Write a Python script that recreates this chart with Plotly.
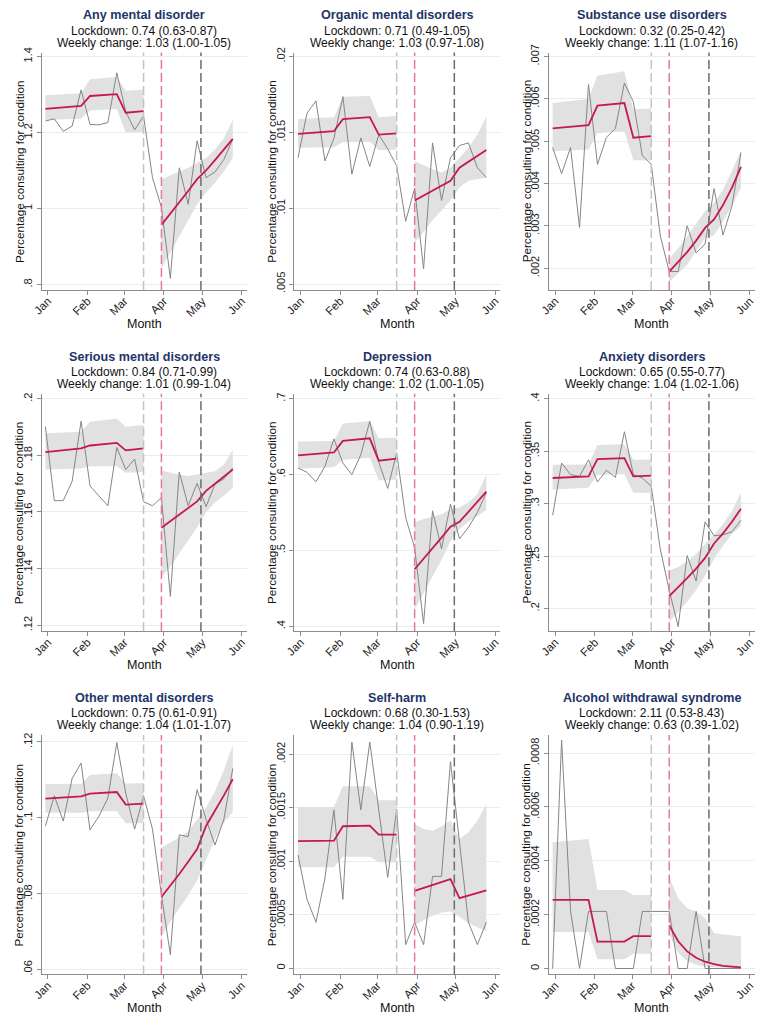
import pandas as pd
import plotly.graph_objects as go

# ---------------- data ----------------
week_start = "2019-12-30"
n_weeks = 22
month_ticks = ["2020-01-01", "2020-02-01", "2020-03-01", "2020-04-01", "2020-05-01", "2020-06-01"]
month_labels = ["Jan", "Feb", "Mar", "Apr", "May", "Jun"]
event_dates = ["2020-03-16", "2020-03-30", "2020-04-30"]

titles = ["Any mental disorder", "Organic mental disorders", "Substance use disorders",
          "Serious mental disorders", "Depression", "Anxiety disorders",
          "Other mental disorders", "Self-harm", "Alcohol withdrawal syndrome"]
lockdown_txt = ["Lockdown: 0.74 (0.63-0.87)", "Lockdown: 0.71 (0.49-1.05)", "Lockdown: 0.32 (0.25-0.42)",
                "Lockdown: 0.84 (0.71-0.99)", "Lockdown: 0.74 (0.63-0.88)", "Lockdown: 0.65 (0.55-0.77)",
                "Lockdown: 0.75 (0.61-0.91)", "Lockdown: 0.68 (0.30-1.53)", "Lockdown: 2.11 (0.53-8.43)"]
weekly_txt = ["Weekly change: 1.03 (1.00-1.05)", "Weekly change: 1.03 (0.97-1.08)", "Weekly change: 1.11 (1.07-1.16)",
              "Weekly change: 1.01 (0.99-1.04)", "Weekly change: 1.02 (1.00-1.05)", "Weekly change: 1.04 (1.02-1.06)",
              "Weekly change: 1.04 (1.01-1.07)", "Weekly change: 1.04 (0.90-1.19)", "Weekly change: 0.63 (0.39-1.02)"]

# 1 Any mental disorder
any_obs = [1.230, 1.236, 1.203, 1.217, 1.312, 1.221, 1.220, 1.226, 1.357, 1.255, 1.207, 1.243,
           1.081, 1.003, 0.816, 1.107, 1.011, 1.178, 1.081, 1.096, 1.129, 1.183]
any_fit = [1.262, 1.264, 1.266, 1.268, 1.270, 1.296, 1.298, 1.300, 1.301, 1.252, 1.254, 1.256,
           None, 0.957, 0.986, 1.015, 1.046, 1.077, 1.100, 1.127, 1.155, 1.183]
any_lo = [1.233, 1.234, 1.234, 1.235, 1.236, 1.258, 1.259, 1.260, 1.262, 1.200, 1.200, 1.201,
          None, 0.842, 0.885, 0.929, 0.972, 1.011, 1.042, 1.068, 1.098, 1.133]
any_hi = [1.298, 1.299, 1.300, 1.301, 1.303, 1.340, 1.342, 1.344, 1.346, 1.310, 1.311, 1.313,
          None, 1.077, 1.087, 1.097, 1.107, 1.120, 1.133, 1.155, 1.185, 1.233]
any_ticks = [0.8, 1.0, 1.2, 1.4]
any_ticklabels = [".8", "1", "1.2", "1.4"]

# 2 Organic mental disorders
org_obs = [.01333, .01626, .01707, .01311, .01459, .01735, .01224, .01463, .01274, .01485, .01391, .01278,
           .00913, .01130, .00600, .01430, .01050, .01333, .01413, .01430, .01267, .01202]
org_fit = [.01489, .01494, .01498, .01502, .01507, .01587, .01591, .01596, .01600, .01485, .01489, .01493,
           None, .01050, .01082, .01114, .01147, .01180, .01267, .01305, .01344, .01383]
org_lo = [.01398, .01399, .01400, .01401, .01402, .01435, .01436, .01437, .01438, .01383, .01384, .01385,
          None, .00774, .00843, .00920, .00985, .01050, .01137, .01180, .01191, .01202]
org_hi = [.01587, .01590, .01593, .01597, .01600, .01735, .01736, .01738, .01739, .01600, .01604, .01609,
          None, .01311, .01283, .01257, .01235, .01267, .01333, .01398, .01485, .01604]
org_ticks = [.005, .01, .015, .02]
org_ticklabels = [".005", ".01", ".015", ".02"]

# 3 Substance use disorders
sub_obs = [.00485, .00423, .00485, .00296, .00634, .00445, .00509, .00530, .00637, .00593, .00466, .00445,
           .00277, .00192, .00192, .00300, .00236, .00257, .00388, .00278, .00347, .00473]
sub_fit = [.00530, .00532, .00534, .00536, .00538, .00584, .00586, .00588, .00590, .00508, .00510, .00512,
           None, .00192, .00214, .00238, .00265, .00295, .00315, .00349, .00390, .00439]
sub_lo = [.00476, .00477, .00478, .00479, .00480, .00519, .00520, .00521, .00523, .00455, .00455, .00454,
          None, .00167, .00187, .00208, .00240, .00272, .00278, .00310, .00348, .00390]
sub_hi = [.00590, .00592, .00594, .00597, .00600, .00655, .00658, .00661, .00665, .00575, .00576, .00577,
          None, .00222, .00247, .00275, .00305, .00335, .00355, .00385, .00430, .00478]
sub_ticks = [.002, .003, .004, .005, .006, .007]
sub_ticklabels = [".002", ".003", ".004", ".005", ".006", ".007"]

# 4 Serious mental disorders
ser_obs = [.1901, .1640, .1640, .1709, .1921, .1692, .1657, .1622, .1828, .1750, .1787, .1636,
           .1622, .1651, .1302, .1741, .1622, .1701, .1619, .1698, .1717, .1756]
ser_fit = [.18116, .18148, .18180, .18212, .18244, .18349, .18380, .18411, .18442, .18174, .18209, .18244,
           None, .15442, .15675, .15907, .16140, .16372, .16744, .16996, .17248, .17500]
ser_lo = [.17500, .17509, .17518, .17526, .17535, .17616, .17616, .17616, .17616, .17384, .17397, .17410,
          None, .13698, .14070, .14535, .15000, .15465, .15988, .16337, .16570, .16860]
ser_hi = [.18779, .18794, .18808, .18823, .18837, .19186, .19225, .19264, .19302, .19012, .19041, .19070,
          None, .17465, .17384, .17326, .17267, .17326, .17384, .17442, .17674, .18198]
ser_ticks = [.12, .14, .16, .18, .2]
ser_ticklabels = [".12", ".14", ".16", ".18", ".2"]

# 5 Depression
dep_obs = [.6087, .6030, .5904, .6109, .6470, .6152, .6000, .6261, .6704, .6165, .5817, .6283,
           .5435, .5035, .4035, .5522, .5022, .5609, .5152, .5304, .5500, .5761]
dep_fit = [.6252, .6262, .6271, .6281, .6291, .6443, .6455, .6466, .6478, .6183, .6196, .6209,
           None, .4752, .4888, .5027, .5168, .5313, .5378, .5508, .5640, .5774]
dep_lo = [.6078, .6083, .6087, .6091, .6096, .6196, .6203, .6210, .6217, .5922, .5928, .5935,
          None, .4217, .4435, .4652, .4878, .5122, .5283, .5378, .5457, .5530]
dep_hi = [.6435, .6437, .6439, .6441, .6443, .6674, .6684, .6694, .6704, .6478, .6483, .6487,
          None, .5370, .5413, .5443, .5478, .5543, .5565, .5630, .5739, .6000]
dep_ticks = [.4, .5, .6, .7]
dep_ticklabels = [".4", ".5", ".6", ".7"]

# 6 Anxiety disorders
anx_obs = [.2888, .3386, .3276, .3260, .3417, .3206, .3317, .3250, .3685, .3276, .3244, .3165,
           .2567, .2173, .1827, .2504, .2261, .2825, .2693, .2702, .2731, .2841]
anx_fit = [.3244, .3248, .3252, .3256, .3260, .3424, .3427, .3430, .3433, .3260, .3263, .3266,
           None, .2117, .2200, .2288, .2380, .2482, .2620, .2716, .2826, .2951]
anx_lo = [.3134, .3138, .3142, .3146, .3150, .3276, .3277, .3278, .3280, .3102, .3102, .3102,
          None, .1874, .1969, .2063, .2173, .2315, .2472, .2598, .2709, .2787]
anx_hi = [.3370, .3370, .3371, .3372, .3373, .3559, .3561, .3563, .3565, .3417, .3418, .3420,
          None, .2362, .2394, .2450, .2520, .2614, .2702, .2803, .2929, .3102]
anx_ticks = [.2, .25, .3, .35, .4]
anx_ticklabels = [".2", ".25", ".3", ".35", ".4"]

# 7 Other mental disorders
oth_obs = [.0978, .1058, .0991, .1104, .1144, .0968, .1004, .1052, .1198, .1065, .0970, .1058,
           .0970, .0797, .0639, .0955, .0950, .1074, .0996, .0928, .0996, .1130]
oth_fit = [.10504, .10519, .10535, .10550, .10565, .10635, .10649, .10664, .10678, .10348, .10361, .10374,
           None, .07913, .08209, .08516, .08838, .09174, .09783, .10179, .10591, .11017]
oth_lo = [.10130, .10130, .10130, .10130, .10130, .10174, .10174, .10174, .10174, .09852, .09852, .09852,
          None, .06870, .07261, .07609, .07957, .08348, .08913, .09435, .09870, .10148]
oth_hi = [.10887, .10887, .10887, .10887, .10887, .11130, .11145, .11160, .11174, .10896, .10904, .10913,
          None, .09217, .09348, .09478, .09652, .09957, .10261, .10696, .11261, .11913]
oth_ticks = [.06, .08, .1, .12]
oth_ticklabels = [".06", ".08", ".1", ".12"]

# 8 Self-harm
sh_obs = [.001057, .000643, .000429, .000842, .001479, .000643, .002113, .001479, .002113, .001501, .000848, .001485,
          .000220, .000429, .000220, .000858, .000858, .001930, .001200, .000429, .000220, .000429]
sh_fit = [.001188, .001189, .001189, .001190, .001191, .001326, .001328, .001330, .001332, .001247, .001247, .001247,
          None, .000722, .000749, .000777, .000805, .000832, .000654, .000679, .000703, .000728]
sh_lo = [.000943, .000943, .000943, .000943, .000943, .001040, .001040, .001040, .001040, .000990, .000990, .000990,
         None, .000400, .000450, .000490, .000520, .000530, .000480, .000420, .000380, .000350]
sh_hi = [.001507, .001507, .001507, .001507, .001507, .001700, .001700, .001700, .001700, .001570, .001570, .001570,
         None, .001347, .001300, .001285, .001325, .001378, .001208, .001270, .001378, .001532]
sh_ticks = [0, .0005, .001, .0015, .002]
sh_ticklabels = ["0", ".0005", ".001", ".0015", ".002"]

# 9 Alcohol withdrawal syndrome
alc_obs = [0, .000848, .000212, 0, .000212, .000212, .000212, 0, 0, 0, .000212, .000212,
           .000212, .000212, 0, 0, .000212, 0, 0, 0, 0, 0]
alc_fit = [.000255, .000255, .000255, .000255, .000255, .000100, .000100, .000100, .000100, .000120, .000120, .000120,
           None, .000160, .000101, .0000635, .0000400, .0000252, .0000159, .0000100, .0000063, .0000040]
alc_lo = [.000136, .000136, .000136, .000136, .000136, .0000343, .0000343, .0000343, .0000343, .0000551, .0000551, .0000551,
          None, .000126, .0000588, .0000282, .0000135, .0000061, .0000037, .0000020, .0000010, .0000005]
alc_hi = [.000469, .000472, .000475, .000478, .000481, .000292, .000292, .000292, .000292, .000273, .000273, .000273,
          None, .000340, .000261, .000224, .000212, .000187, .000132, .000126, .000124, .000120]
alc_ticks = [0, .0002, .0004, .0006, .0008]
alc_ticklabels = ["0", ".0002", ".0004", ".0006", ".0008"]

panels = [
    (any_obs, any_fit, any_lo, any_hi, any_ticks, any_ticklabels),
    (org_obs, org_fit, org_lo, org_hi, org_ticks, org_ticklabels),
    (sub_obs, sub_fit, sub_lo, sub_hi, sub_ticks, sub_ticklabels),
    (ser_obs, ser_fit, ser_lo, ser_hi, ser_ticks, ser_ticklabels),
    (dep_obs, dep_fit, dep_lo, dep_hi, dep_ticks, dep_ticklabels),
    (anx_obs, anx_fit, anx_lo, anx_hi, anx_ticks, anx_ticklabels),
    (oth_obs, oth_fit, oth_lo, oth_hi, oth_ticks, oth_ticklabels),
    (sh_obs, sh_fit, sh_lo, sh_hi, sh_ticks, sh_ticklabels),
    (alc_obs, alc_fit, alc_lo, alc_hi, alc_ticks, alc_ticklabels),
]

# ---------------- layout / style ----------------
W, H = 758, 1017
col_px = [(32, 240), (288, 497), (546, 755)]      # pixel extents of the plot regions
row_px = [(45, 285), (390, 630), (735, 977)]
y_ranges = [(0.7857, 1.4104), (0.00461, 0.02026), (0.001486, 0.007093),
            (0.1179, 0.20175), (0.3935, 0.7065), (0.1783, 0.4047),
            (0.0587, 0.1218), (-0.0000582, 0.002178), (-0.000022, 0.000867)]
x_range = ["2019-12-27", "2020-06-05"]


def px_x(p):
    return p / W


def px_y(p):
    return 1 - p / H


FONT = "Liberation Sans, Arial, sans-serif"
TITLE_C = "#1e3468"
RED = "#c8174d"
GREY_LINE = "#858585"
BAND = "#e1e1e1"
AXIS_C = "#8c8c8c"
GRID_C = "#e6eef0"
VLINE_COLORS = ["#c3c3c3", "#e37a9a", "#6b6b6b"]

weeks = pd.date_range(week_start, periods=n_weeks, freq="7D")
pre = slice(0, 12)
post = slice(13, 22)

fig = go.Figure()
annotations = []
shapes = []

for i, (obs, fit, lo, hi, tv, tt) in enumerate(panels):
    r, c = divmod(i, 3)
    sfx = "" if i == 0 else str(i + 1)
    xa, ya = "x" + sfx, "y" + sfx
    c0, c1 = col_px[c]
    r0, r1 = row_px[r]

    for seg in (pre, post):
        fig.add_trace(go.Scatter(x=weeks[seg], y=lo[seg], mode="lines", line=dict(width=0, color=BAND),
                                 xaxis=xa, yaxis=ya, showlegend=False, hoverinfo="skip"))
        fig.add_trace(go.Scatter(x=weeks[seg], y=hi[seg], mode="lines", line=dict(width=0, color=BAND),
                                 fill="tonexty", fillcolor=BAND,
                                 xaxis=xa, yaxis=ya, showlegend=False, hoverinfo="skip"))
    fig.add_trace(go.Scatter(x=weeks, y=obs, mode="lines", line=dict(width=1, color=GREY_LINE),
                             xaxis=xa, yaxis=ya, showlegend=False))
    for seg in (pre, post):
        fig.add_trace(go.Scatter(x=weeks[seg], y=fit[seg], mode="lines", line=dict(width=1.8, color=RED),
                                 xaxis=xa, yaxis=ya, showlegend=False))

    fig.layout["xaxis" + sfx] = dict(
        domain=[px_x(c0), px_x(c1)], anchor=ya, type="date", range=x_range,
        tickvals=month_ticks, ticktext=month_labels, tickangle=-45, ticklabelstandoff=-5,
        ticks="outside", ticklen=4, tickcolor=AXIS_C, showline=True, linecolor=AXIS_C,
        linewidth=1, showgrid=False, zeroline=False,
        tickfont=dict(family=FONT, size=11.5, color="#222222"), fixedrange=True)
    fig.layout["yaxis" + sfx] = dict(
        domain=[px_y(r1), px_y(r0)], anchor=xa, range=list(y_ranges[i]),
        tickvals=tv, ticktext=tt, tickangle=-90,
        ticks="outside", ticklen=4, tickcolor=AXIS_C, showline=True, linecolor=AXIS_C,
        linewidth=1, showgrid=True, gridcolor=GRID_C, gridwidth=1, zeroline=False,
        tickfont=dict(family=FONT, size=11, color="#222222"), fixedrange=True)

    for d, col in zip(event_dates, VLINE_COLORS):
        shapes.append(dict(type="line", xref=xa, yref=ya + " domain", x0=d, x1=d, y0=0, y1=1,
                           line=dict(color=col, width=1.5, dash="9px,4px")))

    xc = px_x((c0 + c1) / 2)
    annotations.append(dict(text="<b>%s</b>" % titles[i], x=xc, y=px_y(r0 - 37.5), xref="paper", yref="paper",
                            xanchor="center", yanchor="middle", showarrow=False,
                            font=dict(family=FONT, size=12.6, color=TITLE_C)))
    annotations.append(dict(text=lockdown_txt[i], x=xc, y=px_y(r0 - 22), xref="paper", yref="paper",
                            xanchor="center", yanchor="middle", showarrow=False,
                            font=dict(family=FONT, size=12, color="#111111")))
    annotations.append(dict(text=weekly_txt[i], x=xc, y=px_y(r0 - 10), xref="paper", yref="paper",
                            xanchor="center", yanchor="middle", showarrow=False,
                            font=dict(family=FONT, size=12, color="#111111")))
    annotations.append(dict(text="Percentage consulting for condition", x=px_x(c0 - 23),
                            y=px_y((r0 + r1) / 2), xref="paper", yref="paper", textangle=-90,
                            xanchor="center", yanchor="middle", showarrow=False,
                            font=dict(family=FONT, size=11.7, color="#111111")))
    annotations.append(dict(text="Month", x=xc, y=px_y(r1 + 34), xref="paper", yref="paper",
                            xanchor="center", yanchor="middle", showarrow=False,
                            font=dict(family=FONT, size=12.5, color="#111111")))

fig.update_layout(width=W, height=H, margin=dict(l=0, r=0, t=0, b=0),
                  paper_bgcolor="white", plot_bgcolor="white",
                  annotations=annotations, shapes=shapes, showlegend=False,
                  font=dict(family=FONT))
fig.write_html("out.html", config={"displayModeBar": False, "staticPlot": True},
               post_script="document.body.style.margin='0px';document.body.style.overflow='hidden';")
